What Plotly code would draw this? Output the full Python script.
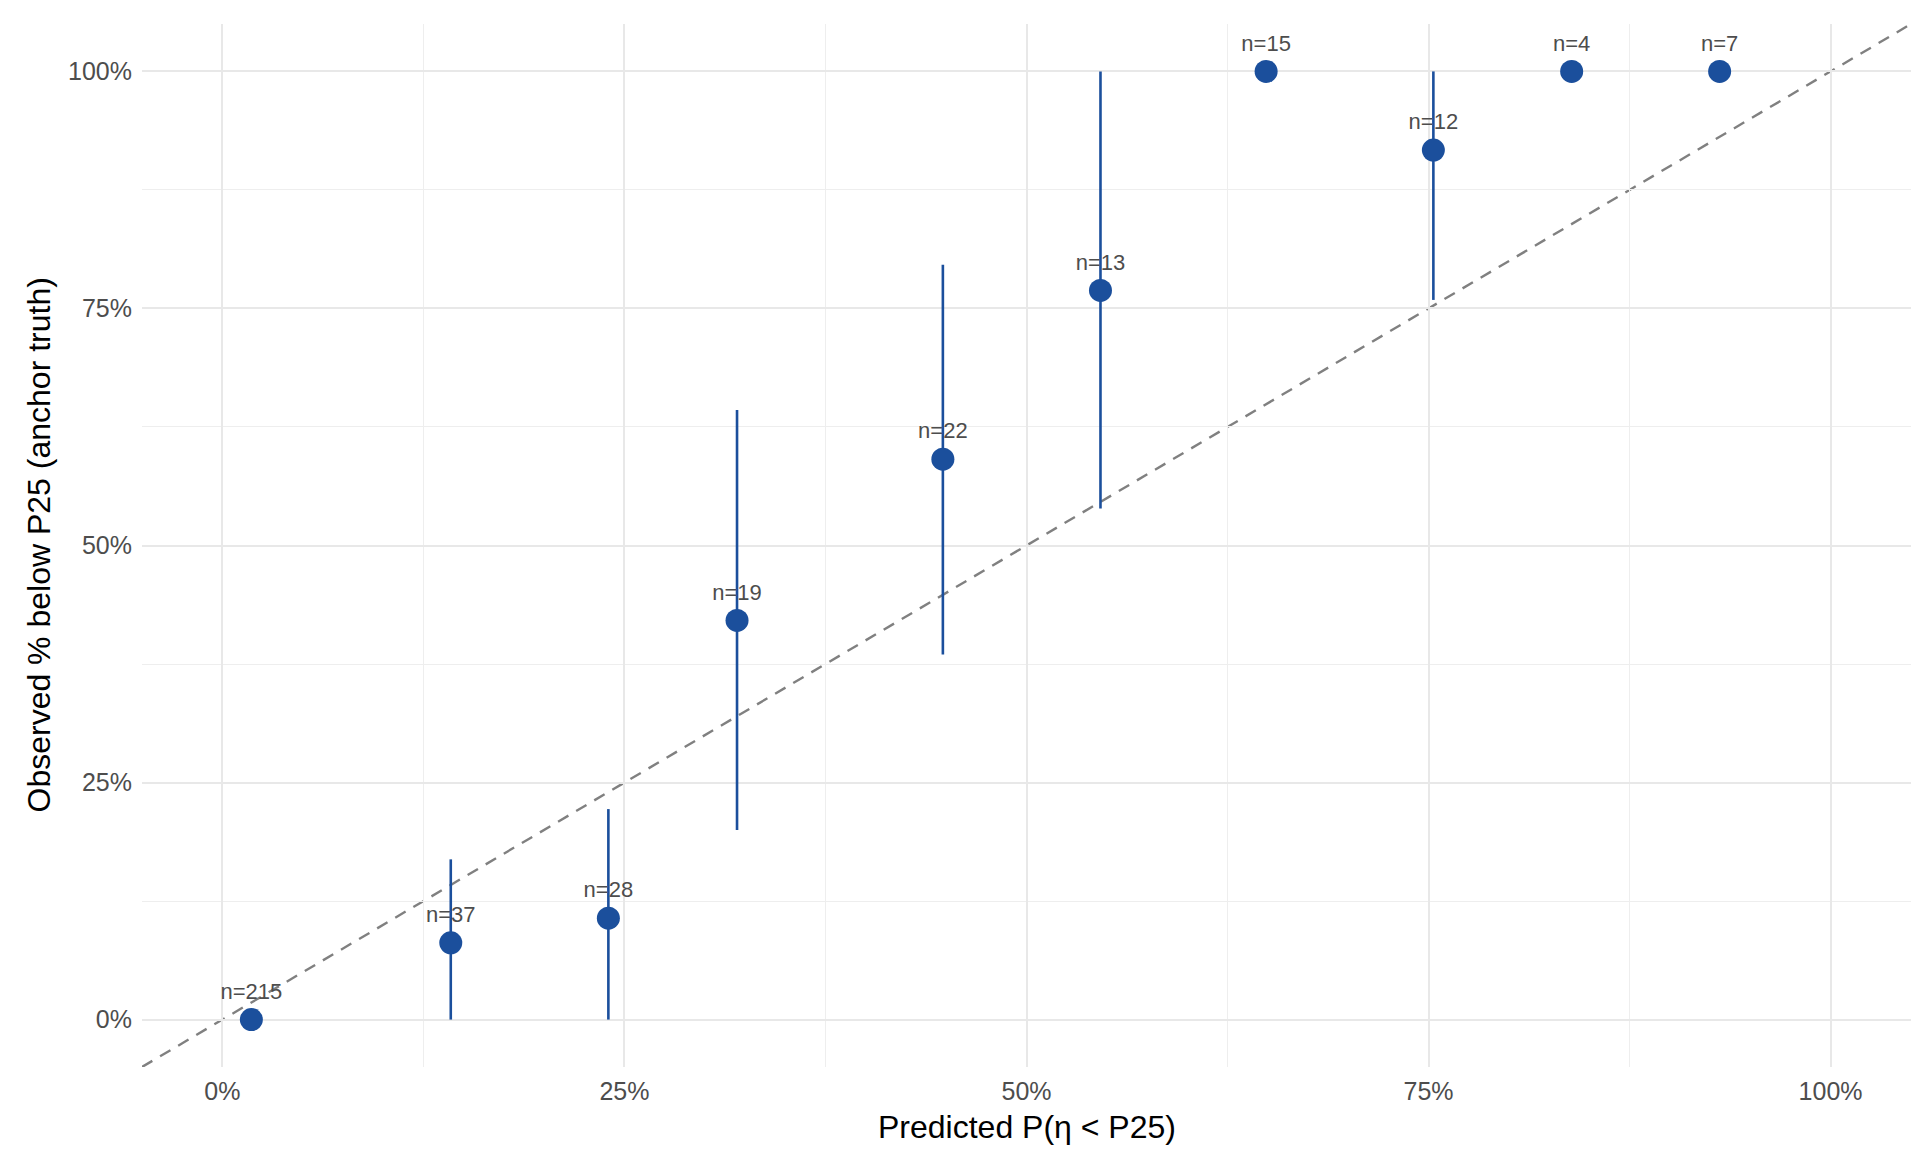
import plotly.graph_objects as go

# Data
pred = [0.018, 0.142, 0.240, 0.320, 0.448, 0.546, 0.649, 0.753, 0.839, 0.931]
obs = [0.0, 0.081, 0.107, 0.421, 0.591, 0.769, 1.0, 0.917, 1.0, 1.0]
ci_lo = [0.0, 0.0, 0.0, 0.200, 0.385, 0.539, 1.0, 0.759, 1.0, 1.0]
ci_hi = [0.0, 0.169, 0.222, 0.643, 0.796, 1.0, 1.0, 1.0, 1.0, 1.0]
n_obs = [215, 37, 28, 19, 22, 13, 15, 12, 4, 7]

tick_vals = [0, 0.25, 0.5, 0.75, 1.0]
tick_text = ["0%", "25%", "50%", "75%", "100%"]
minor_vals = [0.125, 0.375, 0.625, 0.875]

labels = [f"n={n}" for n in n_obs]
err_plus = [h - o for h, o in zip(ci_hi, obs)]
err_minus = [o - l for o, l in zip(obs, ci_lo)]

AX_RANGE = [-0.05, 1.05]
BLUE = "#1b4f9c"
FONT = "Liberation Sans, Arial, Helvetica, sans-serif"

ML, MR, MT, MB = 134, 17, 16, 93

fig = go.Figure()

fig.add_trace(go.Scatter(
    x=pred, y=obs,
    mode="markers+text",
    text=labels,
    textposition="top center",
    textfont=dict(family=FONT, size=22, color="#4d4d4d"),
    marker=dict(size=23, color=BLUE),
    error_y=dict(type="data", symmetric=False, array=err_plus, arrayminus=err_minus,
                 width=0, thickness=2.6, color=BLUE),
    showlegend=False,
    cliponaxis=False,
))

fig.add_shape(type="line", xref="x", yref="y",
              x0=AX_RANGE[0], y0=AX_RANGE[0], x1=AX_RANGE[1], y1=AX_RANGE[1],
              line=dict(color="#808080", width=2.4, dash="12px,9px"), layer="below")

axis_common = dict(
    range=AX_RANGE,
    tickvals=tick_vals,
    ticktext=tick_text,
    showgrid=True, gridcolor="#e8e8e8", gridwidth=2.3,
    minor=dict(tickvals=minor_vals, showgrid=True,
               gridcolor="#eeeeee", gridwidth=1.2),
    zeroline=False, showline=False, ticks="",
    tickfont=dict(family=FONT, size=25, color="#4d4d4d"),
    automargin=False,
)

fig.update_xaxes(**axis_common, ticklabelstandoff=7)
fig.update_yaxes(**axis_common, ticklabelstandoff=9)

fig.add_annotation(text="Predicted P(η < P25)", xref="paper", yref="paper",
                   x=0.5, y=0, yanchor="middle", xanchor="center", yshift=-(1119 - (1152 - MB)),
                   showarrow=False, font=dict(family=FONT, size=32, color="#000000"))
fig.add_annotation(text="Observed % below P25 (anchor truth)", xref="paper", yref="paper",
                   x=0, y=0.5, xanchor="center", yanchor="middle", xshift=-(ML - 30),
                   textangle=-90, showarrow=False,
                   font=dict(family=FONT, size=32, color="#000000"))

fig.update_layout(
    width=1920, height=1152,
    margin=dict(l=ML, r=MR, t=MT, b=MB),
    plot_bgcolor="white", paper_bgcolor="white",
    font=dict(family=FONT),
)

fig.write_html("out.html")
